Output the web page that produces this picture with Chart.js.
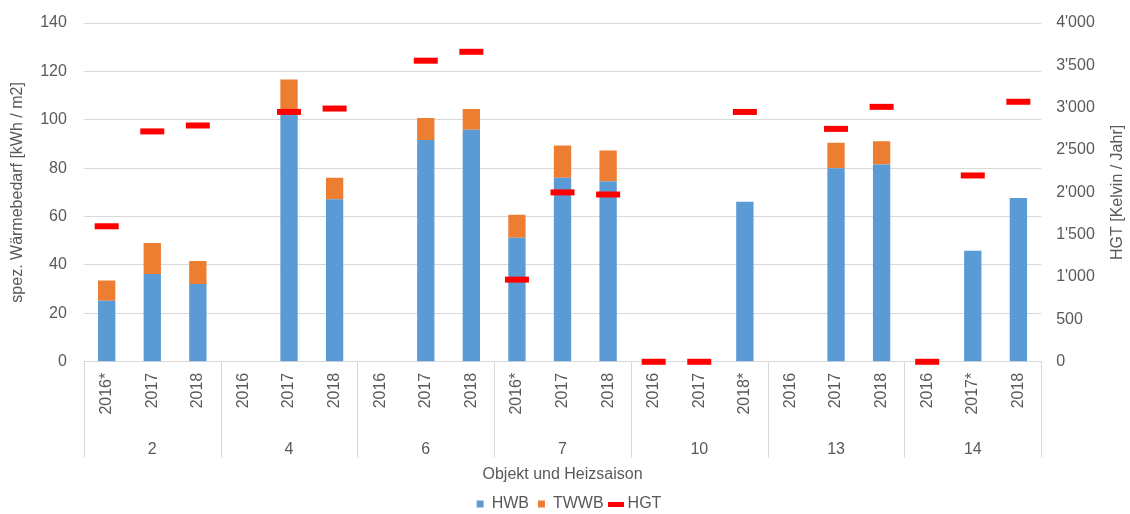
<!DOCTYPE html>
<html>
<head>
<meta charset="utf-8">
<script src="https://cdn.jsdelivr.net/npm/chart.js@4.4.1/dist/chart.umd.min.js"></script>
<style>
  html, body { margin: 0; padding: 0; background: #fff; }
  #wrap { width: 1130px; height: 514px; }
</style>
</head>
<body>
<div id="wrap"><canvas id="heatChart"></canvas></div>
<script>
// Heizsaison je Objekt
const seasons = ['2016*', '2017', '2018', '2016', '2017', '2018', '2016', '2017', '2018',
                 '2016*', '2017', '2018', '2016', '2017', '2018*', '2016', '2017', '2018',
                 '2016', '2017*', '2018'];
const objects = ['2', '4', '6', '7', '10', '13', '14'];

// spez. Wärmebedarf [kWh / m2]
const hwb  = [25.2, 36.3, 32.1, null, 102.3, 67.2, null, 91.6, 95.9, 51.3, 76.1, 74.6,
              null, null, 66.1, null, 80.0, 81.5, null, 45.9, 67.7];
const twwb = [8.4, 12.8, 9.5, null, 14.3, 8.9, null, 9.1, 8.6, 9.5, 13.3, 12.7,
              null, null, null, null, 10.5, 9.6, null, null, null];

// Heizgradtage [Kelvin / Jahr]
const hgt  = [1600, 2720, 2790, null, 2950, 2990, null, 3555, 3660, 970, 2000, 1975,
              0, 0, 2950, null, 2750, 3010, 0, 2200, 3070];

const leftTicks = [0, 20, 40, 60, 80, 100, 120, 140];
const rightTicks = [0, 500, 1000, 1500, 2000, 2500, 3000, 3500, 4000];

const textColor = '#595959';
const gridColor = '#d9d9d9';
const fontFamily = '"Liberation Sans", Arial, sans-serif';
const rightTitle = 'HGT [Kelvin / Jahr]';

// 4000 -> 4'000
function swissNumber(v) {
    return String(v).replace(/\B(?=(\d{3})+(?!\d))/g, "'");
}

// unsichtbare Tick-Striche als Abstand (padding zaehlt doppelt)
function spacer(len, onArea) {
    return {
        display: true,
        drawOnChartArea: !!onArea,
        color: gridColor,
        drawTicks: true,
        tickLength: len,
        tickColor: 'rgba(0,0,0,0)'
    };
}

// kurzer roter Strich fuer die HGT-Legende
const hgtLegendMark = document.createElement('canvas');
hgtLegendMark.width = 16;
hgtLegendMark.height = 5;
const markCtx = hgtLegendMark.getContext('2d');
markCtx.fillStyle = '#ff0000';
markCtx.fillRect(0, 0, 16, 5);

// Trennlinien zwischen den Objekten + rechter Achsentitel (von unten nach oben)
const groupLines = {
    id: 'groupLines',
    afterDraw(chart) {
        const { ctx, chartArea } = chart;
        const x = chart.scales.x;
        const g = chart.scales.groups;
        const bottom = g.top + 43;
        ctx.save();
        ctx.strokeStyle = gridColor;
        ctx.lineWidth = 1;
        for (let i = 0; i <= objects.length; i++) {
            let px;
            if (i === 0) px = chartArea.left;
            else if (i === objects.length) px = chartArea.right;
            else px = (x.getPixelForValue(i * 3 - 1) + x.getPixelForValue(i * 3)) / 2;
            px = Math.round(px) + 0.5;
            ctx.beginPath();
            ctx.moveTo(px, chartArea.bottom);
            ctx.lineTo(px, bottom);
            ctx.stroke();
        }

        ctx.translate(chart.width - 12, (chartArea.top + chartArea.bottom) / 2);
        ctx.rotate(-Math.PI / 2);
        ctx.fillStyle = textColor;
        ctx.font = '16px ' + fontFamily;
        ctx.textAlign = 'center';
        ctx.textBaseline = 'middle';
        ctx.fillText(rightTitle, 0, 0);
        ctx.restore();
    }
};

Chart.defaults.font.family = fontFamily;
Chart.defaults.font.size = 16;
Chart.defaults.color = textColor;

const ctx = document.getElementById('heatChart').getContext('2d');
new Chart(ctx, {
    type: 'bar',
    data: {
        labels: seasons,
        datasets: [
            {
                label: 'HWB',
                data: hwb,
                backgroundColor: '#5b9bd5',
                stack: 'w',
                yAxisID: 'y',
                order: 1,
                pointStyle: 'rect',
                barPercentage: 0.38,
                categoryPercentage: 1
            },
            {
                label: 'TWWB',
                data: twwb,
                backgroundColor: '#ed7d31',
                stack: 'w',
                yAxisID: 'y',
                order: 1,
                pointStyle: 'rect',
                barPercentage: 0.38,
                categoryPercentage: 1
            },
            {
                type: 'line',
                label: 'HGT',
                data: hgt,
                yAxisID: 'y2',
                order: 0,
                showLine: false,
                clip: false,
                borderColor: '#ff0000',
                backgroundColor: '#ff0000',
                borderWidth: 6,
                pointStyle: 'line',
                pointRadius: 12,
                pointHoverRadius: 12,
                pointBorderWidth: 6,
                pointBorderColor: '#ff0000'
            }
        ]
    },
    options: {
        responsive: true,
        maintainAspectRatio: false,
        animation: false,
        layout: { padding: { top: 23, left: 8, right: 0, bottom: -8 } },
        plugins: {
            tooltip: { enabled: false },
            legend: {
                position: 'bottom',
                labels: {
                    usePointStyle: true,
                    boxHeight: 7,
                    pointStyleWidth: 7,
                    padding: 9,
                    color: textColor,
                    sort: (a, b) => a.datasetIndex - b.datasetIndex,
                    generateLabels(chart) {
                        const items = Chart.defaults.plugins.legend.labels.generateLabels(chart);
                        items.forEach(item => {
                            if (item.text === 'HGT') item.pointStyle = hgtLegendMark;
                        });
                        return items;
                    }
                }
            }
        },
        scales: {
            x: {
                stacked: true,
                grid: spacer(11),
                border: { display: true, color: gridColor },
                ticks: { minRotation: 90, maxRotation: 90, padding: 0, autoSkip: false }
            },
            groups: {
                type: 'category',
                labels: objects,
                position: 'bottom',
                offset: true,
                grid: spacer(25),
                border: { display: false },
                ticks: { padding: 0 },
                title: { display: true, text: 'Objekt und Heizsaison', padding: { top: 6, bottom: 3 } }
            },
            y: {
                stacked: true,
                min: 0,
                max: 140,
                position: 'left',
                afterBuildTicks: axis => { axis.ticks = leftTicks.map(v => ({ value: v })); },
                grid: spacer(17, true),
                border: { display: false },
                ticks: { padding: 0 },
                title: { display: true, text: 'spez. Wärmebedarf [kWh / m2]', padding: { top: 0, bottom: 13 } }
            },
            y2: {
                min: 0,
                max: 4000,
                position: 'right',
                afterBuildTicks: axis => { axis.ticks = rightTicks.map(v => ({ value: v })); },
                grid: spacer(15),
                border: { display: false },
                ticks: { padding: 0, callback: v => swissNumber(v) },
                title: { display: true, text: rightTitle, color: 'rgba(0,0,0,0)', padding: 8 }
            }
        }
    },
    plugins: [groupLines]
});
</script>
</body>
</html>
